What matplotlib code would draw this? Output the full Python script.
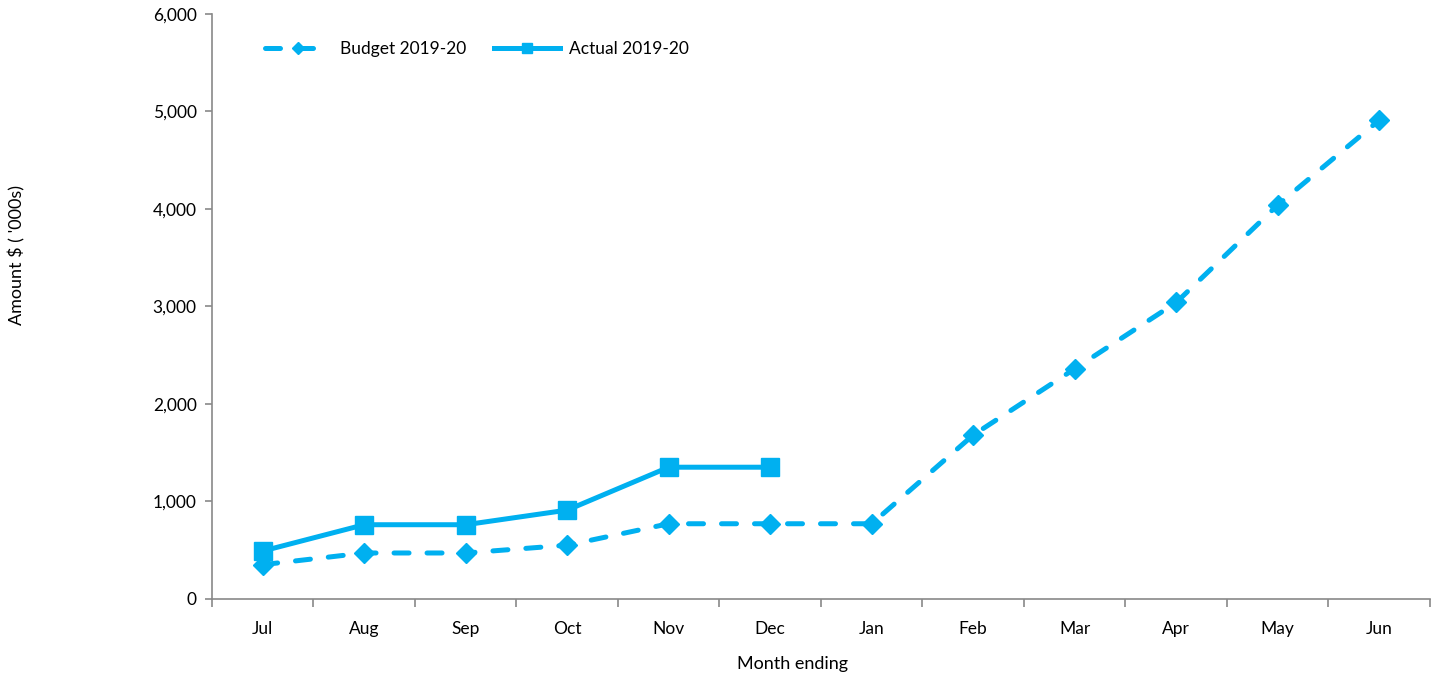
import numpy as np
import matplotlib.pyplot as plt
from matplotlib.ticker import FuncFormatter, FixedLocator

plt.rcParams['font.family'] = ['Lato', 'DejaVu Sans']

months = ['Jul', 'Aug', 'Sep', 'Oct', 'Nov', 'Dec', 'Jan', 'Feb', 'Mar', 'Apr', 'May', 'Jun']
budget = [350, 470, 470, 550, 770, 770, 770, 1680, 2360, 3040, 4040, 4910]
actual = [490, 760, 760, 910, 1350, 1350]

blue = '#00B0F0'
grey = '#898989'

fig = plt.figure(figsize=(14.38, 6.82), dpi=100)
ax = fig.add_axes([0.1474, 0.122, 0.847, 0.8575])

x = np.arange(len(months))
ax.plot(x, budget, color=blue, lw=3.6, ls=(0, (3, 3.6)), dash_capstyle='round',
        marker='D', ms=10, label='Budget 2019-20')
ax.plot(x[:len(actual)], actual, color=blue, lw=3.6, marker='s', ms=13,
        label='Actual 2019-20')

ax.set_xlim(-0.5, len(months) - 0.5)
ax.set_ylim(0, 6000)
ax.set_yticks(np.arange(0, 6001, 1000))
ax.yaxis.set_major_formatter(FuncFormatter(lambda v, p: f'{int(v):,}'))
ax.set_xticks(x)
ax.set_xticklabels(months)
ax.xaxis.set_minor_locator(FixedLocator(np.arange(-0.5, len(months), 1)))
ax.tick_params(axis='x', which='major', length=0, pad=16, labelsize=12.5)
ax.tick_params(axis='x', which='minor', length=6, color=grey, width=1.2)
ax.tick_params(axis='y', length=5, color=grey, width=1.2, labelsize=12.5, pad=6)

for s in ['top', 'right']:
    ax.spines[s].set_visible(False)
for s in ['left', 'bottom']:
    ax.spines[s].set_color(grey)
    ax.spines[s].set_linewidth(1.2)

ax.set_ylabel("Amount $ ( '000s)", fontsize=13)
ax.yaxis.set_label_coords(-0.1535, 0.588)
ax.set_xlabel('Month ending', fontsize=13)
ax.xaxis.set_label_coords(0.477, -0.097)

ax.legend(loc='upper left', bbox_to_anchor=(0.031, 0.981), ncol=2, frameon=False,
          fontsize=12.5, handlelength=3.8, columnspacing=1.6, handletextpad=0.5,
          markerscale=0.6)

fig.savefig('out.png', dpi=100)
